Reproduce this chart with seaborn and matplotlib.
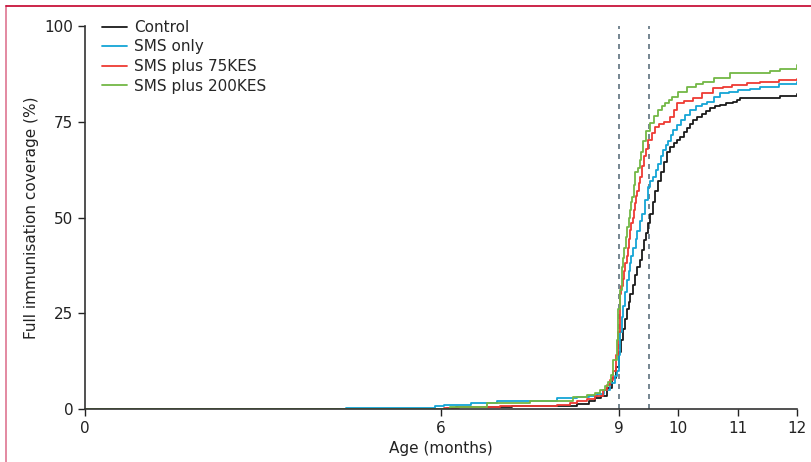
import numpy as np
import pandas as pd
import seaborn as sns
import matplotlib.pyplot as plt
from matplotlib.lines import Line2D

# --- data (age in months, coverage in %) ---
groups = ['Control', 'SMS only', 'SMS plus 75KES', 'SMS plus 200KES']
colors = ['#1a1a1a', '#14a5d6', '#ee3a33', '#73b845']

control_t = [0, 6.1, 6.25, 7.2, 8.3, 8.5, 8.6, 8.7, 8.8, 8.88, 8.95, 9.0, 9.04, 9.07, 9.1,
             9.13, 9.16, 9.19, 9.23, 9.27, 9.31, 9.35, 9.38, 9.42, 9.45, 9.49, 9.53, 9.57,
             9.6, 9.65, 9.7, 9.75, 9.81, 9.86, 9.92, 9.97, 10.03, 10.09, 10.15, 10.2, 10.25,
             10.32, 10.4, 10.46, 10.53, 10.62, 10.7, 10.8, 10.92, 10.98, 11.04, 11.55,
             11.71, 12]
control_v = [0, 0.3, 0.6, 0.8, 1.2, 2.0, 2.8, 3.5, 5.5, 8, 11, 15, 18, 21, 23.5,
             26, 28, 30, 32.5, 35, 37, 39, 41.5, 44, 46, 48.5, 51, 54,
             57, 59.5, 62, 64.5, 67, 68.5, 69.5, 70.3, 71, 72.3, 73.5, 74.5, 75.5,
             76.3, 77, 77.8, 78.6, 79.0, 79.5, 79.8, 80.2, 80.7, 81.2, 81.2,
             81.7, 82.2]

sms_t = [0, 4.4, 5.9, 6.05, 6.5, 6.95, 7.96, 8.3, 8.5, 8.63, 8.75, 8.85, 8.93, 8.97, 9.0,
         9.02, 9.05, 9.07, 9.1, 9.13, 9.16, 9.18, 9.21, 9.24, 9.28, 9.31, 9.35, 9.39, 9.44,
         9.49, 9.53, 9.58, 9.62, 9.66, 9.7, 9.74, 9.79, 9.83, 9.87, 9.91, 9.98, 10.05,
         10.12, 10.2, 10.3, 10.4, 10.48, 10.6, 10.7, 10.85, 11.0, 11.2, 11.38, 11.7, 12]
sms_v = [0, 0.3, 0.7, 1.0, 1.5, 2.0, 2.9, 3.2, 3.5, 3.8, 5, 6.8, 8.5, 10, 14,
         20, 24, 27, 30.5, 33.7, 36, 38, 40, 42, 44.5, 46.5, 49, 51, 54.5,
         58, 59.5, 60.6, 62.5, 64, 66, 67.6, 69, 70, 71.5, 72.8, 74.2, 75.5,
         76.8, 78, 79, 79.7, 80.2, 81.5, 82.5, 82.9, 83.2, 83.6, 84, 84.8, 85.4]

kes75_t = [0, 6.05, 6.3, 7.0, 7.96, 8.17, 8.3, 8.46, 8.6, 8.73, 8.8, 8.85, 8.9, 8.95, 8.98,
           9.02, 9.04, 9.06, 9.08, 9.1, 9.13, 9.15, 9.17, 9.19, 9.21, 9.23, 9.25, 9.27, 9.29,
           9.31, 9.33, 9.35, 9.38, 9.42, 9.45, 9.49, 9.55, 9.6, 9.67, 9.75, 9.86, 9.92, 9.98,
           10.1, 10.25, 10.4, 10.58, 10.75, 10.9, 11.15, 11.38, 11.7, 12]
kes75_v = [0, 0.3, 0.6, 0.8, 1.0, 1.5, 2.0, 2.6, 3.5, 5, 6.2, 7.6, 10, 14, 20,
           30, 32, 34, 36, 38, 40, 42, 44.5, 46.7, 48.5, 50, 52, 53.8, 55.5,
           57, 59, 60.6, 63.5, 66, 68, 70.2, 72, 73.6, 74.3, 75, 76.2, 78, 79.9,
           80.5, 81.2, 82.5, 83.8, 84.2, 84.5, 85, 85.4, 85.8, 86.2]

kes200_t = [0, 6.15, 6.78, 7.5, 8.23, 8.46, 8.6, 8.68, 8.76, 8.82, 8.86, 8.9, 8.96, 8.99,
            9.02, 9.05, 9.07, 9.09, 9.11, 9.13, 9.16, 9.18, 9.2, 9.22, 9.25, 9.27, 9.32,
            9.35, 9.37, 9.41, 9.46, 9.52, 9.59, 9.66, 9.72, 9.78, 9.84, 9.89, 10.0, 10.15,
            10.3, 10.42, 10.6, 10.87, 11.38, 11.55, 11.71, 12]
kes200_v = [0, 0.5, 1.5, 2.0, 3.1, 3.6, 4.3, 5, 6, 7, 9, 12.8, 18, 26,
            31, 37, 39.5, 42, 45, 47.5, 50, 52, 54, 55.4, 58.5, 62, 63,
            65, 67, 70, 72.5, 74.7, 76.5, 78, 79, 80, 80.8, 81.5, 82.8, 84,
            84.8, 85.4, 86.5, 87.7, 87.7, 88.2, 88.8, 89.8]

x_ticks = [0, 6, 9, 10, 11, 12]
y_ticks = [0, 25, 50, 75, 100]
ref_lines = [9, 9.5]

frames = []
for name, t, v in zip(groups, [control_t, sms_t, kes75_t, kes200_t],
                      [control_v, sms_v, kes75_v, kes200_v]):
    frames.append(pd.DataFrame({'age': t, 'coverage': v, 'group': name}))
df = pd.concat(frames, ignore_index=True)

sns.set_style('ticks')
plt.rcParams['font.family'] = ['Liberation Sans Narrow', 'DejaVu Sans']

fig = plt.figure(figsize=(8.11, 4.62), dpi=100)
ax = fig.add_axes([0.1048, 0.1147, 0.878, 0.829])

sns.lineplot(data=df, x='age', y='coverage', hue='group', hue_order=groups,
             palette=colors, estimator=None, drawstyle='steps-post', linewidth=1.3,
             legend=False, ax=ax)

for xv in ref_lines:
    ax.plot([xv, xv], [0, 100], color='#5d717e', lw=1.2, dashes=(3, 3), zorder=1)

ax.set_xlim(0, 12)
ax.set_ylim(0, 100)
ax.set_xticks(x_ticks)
ax.set_yticks(y_ticks)
ax.tick_params(labelsize=11, length=5, width=1, colors='#222222')
ax.set_xlabel('Age (months)', fontsize=11, color='#222222')
ax.set_ylabel('Full immunisation coverage (%)', fontsize=11, color='#222222')
for s in ['top', 'right']:
    ax.spines[s].set_visible(False)
for s in ['left', 'bottom']:
    ax.spines[s].set_linewidth(1.2)
    ax.spines[s].set_color('#333333')

handles = [Line2D([0], [0], color=c, lw=1.3) for c in colors]
ax.legend(handles, groups, loc='upper left', bbox_to_anchor=(0.016, 1.032), frameon=False,
          fontsize=11, handlelength=1.6, handletextpad=0.45, labelspacing=0.3,
          borderaxespad=0)

# page frame
fig.add_artist(Line2D([0.0074, 0.0074], [0, 0.987], color='#e0809a', lw=1.3))
fig.add_artist(Line2D([0.0074, 1], [0.987, 0.987], color='#c8143c', lw=1.3))

plt.savefig('out.png', dpi=100)
